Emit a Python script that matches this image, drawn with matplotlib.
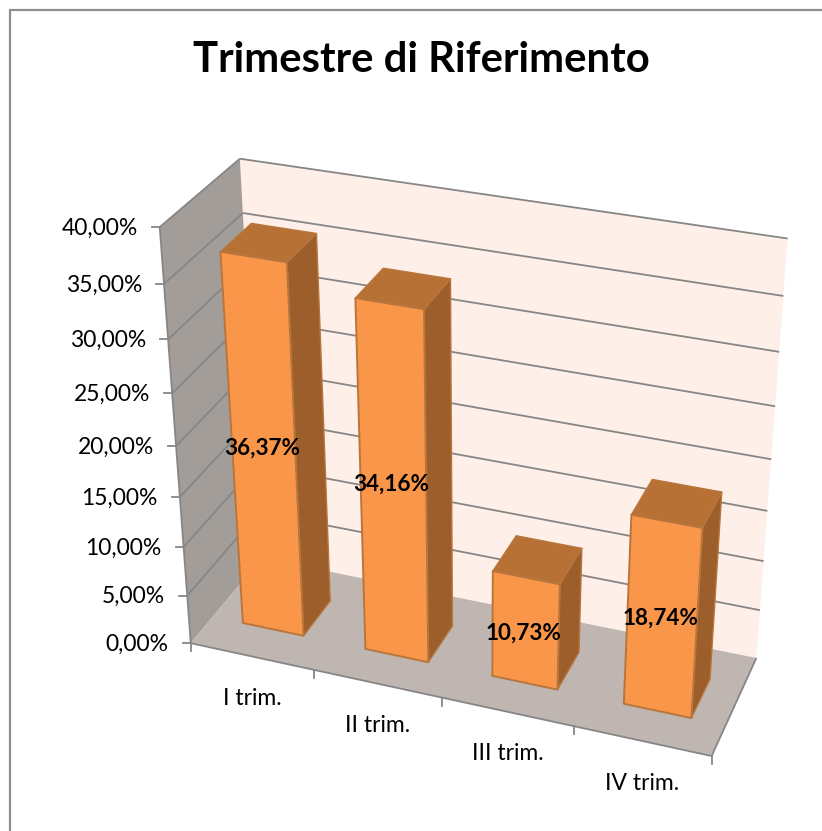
import numpy as np
import matplotlib
matplotlib.use("Agg")
import matplotlib.pyplot as plt
from matplotlib.patches import Polygon

# ---- data ----
title = "Trimestre di Riferimento"
categories = ["I trim.", "II trim.", "III trim.", "IV trim."]
values = [36.37, 34.16, 10.73, 18.74]
value_labels = ["36,37%", "34,16%", "10,73%", "18,74%"]
y_ticks = [0, 5, 10, 15, 20, 25, 30, 35, 40]
y_tick_labels = ["0,00%", "5,00%", "10,00%", "15,00%", "20,00%", "25,00%", "30,00%", "35,00%", "40,00%"]

# ---- perspective camera: (category, value, depth) -> figure pixels ----
CAMERA = np.array([[117.7789, -1.169492, 86.40979, 190.7712],
                   [14.99513, -10.96345, -52.19371, 643.181],
                   [-0.01748132, -0.002466792, 0.05926224, 1.0]])
BAR_OFFSET, BAR_WIDTH, BAR_FRONT, BAR_DEPTH = 0.25, 0.5, 0.3, 0.4
XMAX, YMAX = len(categories), y_ticks[-1]


def pr(x, y, z):
    q = CAMERA @ np.array([x, y, z, 1.0])
    return q[0] / q[2], q[1] / q[2]


GRID = "#868686"
BACK = "#FEEFE8"
LEFT = "#A39D99"
FLOOR = "#BFB5B1"
FRONT = "#F9964A"
TOP = "#B87134"
SIDE = "#9C5F2C"
EDGE = "#B8763C"
FONT = "Lato"

fig = plt.figure(figsize=(8.22, 8.31), dpi=100, facecolor="white")
ax = fig.add_axes([0, 0, 1, 1])
ax.set_xlim(0, 822)
ax.set_ylim(831, 0)
ax.axis("off")

# chart frame
ax.plot([9.5, 9.5, 822], [831, 10, 10], color="#8E8E8E", lw=1.6, solid_joinstyle="miter")

# walls and floor
ax.add_patch(Polygon([pr(0, 0, 1), pr(XMAX, 0, 1), pr(XMAX, YMAX, 1), pr(0, YMAX, 1)], fc=BACK, ec="none", zorder=1))
ax.add_patch(Polygon([pr(0, 0, 0), pr(0, 0, 1), pr(0, YMAX, 1), pr(0, YMAX, 0)], fc=LEFT, ec="none", zorder=1))
ax.add_patch(Polygon([pr(0, 0, 0), pr(XMAX, 0, 0), pr(XMAX, 0, 1), pr(0, 0, 1)], fc=FLOOR, ec="none", zorder=1))


def seg(a, b):
    ax.plot(*zip(a, b), color=GRID, lw=1.3, solid_capstyle="butt", zorder=2)


for t in y_ticks[1:]:
    seg(pr(0, t, 0), pr(0, t, 1))
    seg(pr(0, t, 1), pr(XMAX, t, 1))
seg(pr(0, 0, 0), pr(0, YMAX, 0))
seg(pr(0, 0, 0), pr(XMAX, 0, 0))
seg(pr(XMAX, 0, 0), pr(XMAX, 0, 1))

# value axis ticks and labels
for t, lab in zip(y_ticks, y_tick_labels):
    px, py = pr(0, t, 0)
    ax.plot([px - 8, px], [py, py], color=GRID, lw=1.3, zorder=2)
    ax.text(px - 22, py + 1, lab, ha="right", va="center", fontsize=16.5, family=FONT, color="black")

# category axis ticks and labels
for i in range(XMAX + 1):
    px, py = pr(i, 0, 0)
    ax.plot([px, px], [py, py + 8], color=GRID, lw=1.3, zorder=2)
for i, lab in enumerate(categories):
    px, py = pr(i + 0.5, 0, 0)
    ax.text(px, py + 42, lab, ha="center", va="center", fontsize=16.5, family=FONT, color="black")

# bars
for i, v in enumerate(values):
    x0, x1 = i + BAR_OFFSET, i + BAR_OFFSET + BAR_WIDTH
    z0, z1 = BAR_FRONT, BAR_FRONT + BAR_DEPTH
    ax.add_patch(Polygon([pr(x1, 0, z0), pr(x1, 0, z1), pr(x1, v, z1), pr(x1, v, z0)],
                         fc=SIDE, ec=EDGE, lw=1.0, joinstyle="round", zorder=3))
    ax.add_patch(Polygon([pr(x0, v, z0), pr(x1, v, z0), pr(x1, v, z1), pr(x0, v, z1)],
                         fc=TOP, ec=EDGE, lw=1.0, joinstyle="round", zorder=3))
    ax.add_patch(Polygon([pr(x0, 0, z0), pr(x1, 0, z0), pr(x1, v, z0), pr(x0, v, z0)],
                         fc=FRONT, ec=EDGE, lw=1.4, joinstyle="round", zorder=3))

for i, (v, lab) in enumerate(zip(values, value_labels)):
    px, py = pr(i + BAR_OFFSET + BAR_WIDTH / 2, v * 0.52, BAR_FRONT)
    ax.text(px - 1.5, py + 4, lab, ha="center", va="center", fontsize=16.2, fontweight="bold",
            family=FONT, color="black", zorder=4)

ax.text(421.5, 60, title, ha="center", va="center", fontsize=30.2, fontweight="bold", family=FONT, color="black")

fig.savefig("out.png", dpi=100, facecolor="white")
